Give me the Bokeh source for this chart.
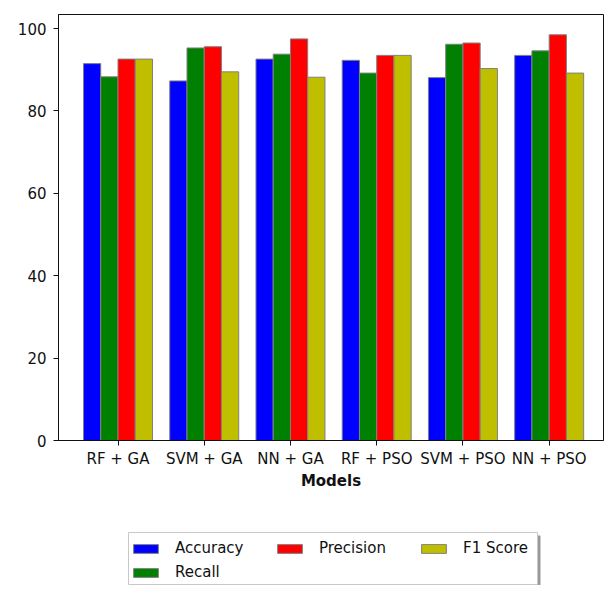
from bokeh.plotting import figure
from bokeh.layouts import column
from bokeh.models import ColumnDataSource, Legend, LegendItem, Range1d, FixedTicker
from bokeh.transform import dodge
from bokeh.embed import file_html
from bokeh.resources import INLINE

models = ["RF + GA", "SVM + GA", "NN + GA", "RF + PSO", "SVM + PSO", "NN + PSO"]
accuracy = [91.5, 87.3, 92.6, 92.3, 88.1, 93.5]
recall = [88.3, 95.3, 93.8, 89.2, 96.2, 94.6]
precision = [92.6, 95.6, 97.5, 93.5, 96.5, 98.5]
f1_score = [92.6, 89.5, 88.2, 93.5, 90.3, 89.2]
metric_names = ["Accuracy", "Recall", "Precision", "F1 Score"]
colors = ["#0000ff", "#008000", "#ff0000", "#bfbf00"]
y_ticks = [0, 20, 40, 60, 80, 100]

FONT = "DejaVu Sans"
TXT = "#111111"
EDGE = "#808080"
W = 604
MAIN_H = 513
LEG_H = 72
BL, BR = 58, 1

source = ColumnDataSource(dict(
    x=list(range(len(models))),
    acc=accuracy, rec=recall, prec=precision, f1=f1_score,
))

p = figure(width=W, height=MAIN_H, output_backend="svg", toolbar_location=None,
           x_range=Range1d(-0.69, len(models) - 1 + 0.63),
           y_range=Range1d(0, max(precision) * 1.05),
           min_border_left=BL, min_border_right=BR, min_border_top=14,
           min_border_bottom=73)

fields = ["acc", "rec", "prec", "f1"]
offsets = [-0.3, -0.1, 0.1, 0.3]
for f, off, c in zip(fields, offsets, colors):
    p.vbar(x=dodge("x", off), top=f, width=0.2, bottom=0, source=source,
           fill_color=c, line_color=EDGE, line_width=1)

p.xgrid.visible = False
p.ygrid.visible = False
p.outline_line_color = TXT
p.outline_line_width = 1

p.xaxis.ticker = FixedTicker(ticks=list(range(len(models))))
p.xaxis.major_label_overrides = {i: m for i, m in enumerate(models)}
p.yaxis.ticker = FixedTicker(ticks=y_ticks)
for ax in (p.xaxis[0], p.yaxis[0]):
    ax.major_label_text_font = FONT
    ax.major_label_text_font_size = "15px"
    ax.major_label_text_color = TXT
    ax.major_tick_out = 5
    ax.major_tick_in = 0
    ax.minor_tick_out = 0
    ax.minor_tick_in = 0
    ax.axis_line_color = TXT
    ax.major_tick_line_color = TXT
p.xaxis.major_label_standoff = 4
p.yaxis.major_label_standoff = 7
p.xaxis.axis_label = "Models"
p.xaxis.axis_label_text_font = FONT
p.xaxis.axis_label_text_font_size = "15px"
p.xaxis.axis_label_text_font_style = "bold"
p.xaxis.axis_label_text_color = TXT
p.xaxis.axis_label_standoff = 1

# legend strip below the chart (data units = canvas pixels)
lf = figure(width=W, height=LEG_H, output_backend="svg", toolbar_location=None,
            x_range=Range1d(BL, W - BR), y_range=Range1d(0, LEG_H),
            min_border_left=BL, min_border_right=BR,
            min_border_top=0, min_border_bottom=0)
lf.axis.visible = False
lf.grid.visible = False
lf.outline_line_color = None

box_l, box_r, box_t, box_b, sh = 128, 537, 53, 1, 3
lf.quad(left=[box_l + sh], right=[box_r + sh], top=[box_t - sh], bottom=[box_b - sh],
        fill_color="#9a9a9a", line_color=None)
lf.quad(left=[box_l], right=[box_r], top=[box_t], bottom=[box_b],
        fill_color="white", line_color="#c8c8c8", line_width=1)

leg_r = []
for name, c in zip(metric_names, colors):
    r = lf.vbar(x=[0], top=[0], bottom=[0], width=0,
                fill_color=c, line_color=EDGE, line_width=1)
    leg_r.append(r)

order = [0, 2, 3, 1]
items = [LegendItem(label=metric_names[i], renderers=[leg_r[i]]) for i in order]
legend = Legend(items=items, orientation="horizontal", ncols=3,
                location=(box_l + 2 - BL, box_b + 2), margin=0,
                label_text_font=FONT, label_text_font_size="15px",
                label_text_color=TXT,
                glyph_width=31, glyph_height=11, label_standoff=14,
                label_height=20, label_width=95, spacing=4, padding=4,
                border_line_color=None,
                background_fill_alpha=0)
lf.add_layout(legend, "center")

layout = column(p, lf, spacing=0)
open("out.html", "w").write(file_html(layout, INLINE))
